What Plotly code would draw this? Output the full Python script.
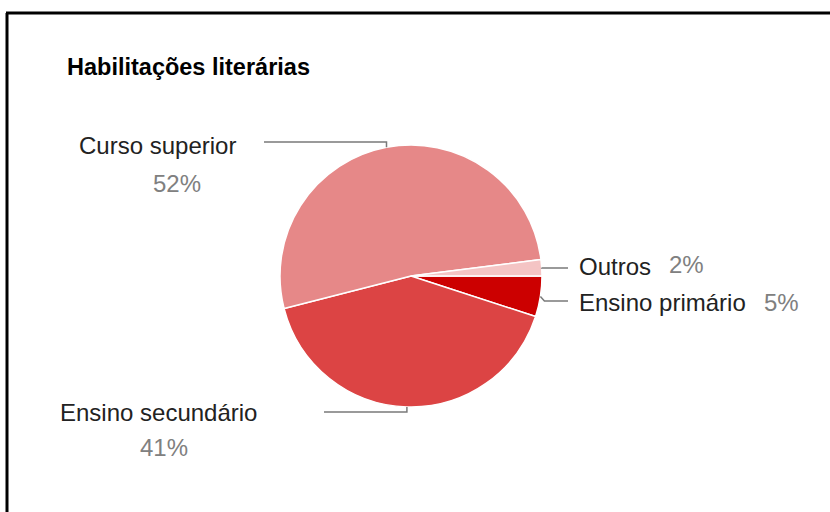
import numpy as np
import plotly.graph_objects as go

# dados
categorias = ["Ensino primário", "Ensino secundário", "Curso superior", "Outros"]
valores = [5, 41, 52, 2]
cores = ["#CC0000", "#DC4444", "#E68888", "#F4C4C4"]
titulo = "Habilitações literárias"

W, H = 830, 512
CX, CY, R = 411, 276, 131  # centro e raio da pizza em px

# posição dos rótulos (px): texto, percentagem, linha de ligação
rotulos = {
    "Curso superior": dict(lx=157, ly=145, ax="center", px=177, py=183, fim=264, ly_linha=142, dx=0),
    "Ensino secundário": dict(lx=158, ly=412, ax="center", px=164, py=447, fim=324, ly_linha=412, dx=0),
    "Outros": dict(lx=577, ly=266, ax="left", px=667, py=264, fim=568, ly_linha=268, dx=0),
    "Ensino primário": dict(lx=577, ly=302, ax="left", px=762, py=302, fim=568, ly_linha=301, dx=4),
}

fonte = "Arial, Liberation Sans, sans-serif"

fig = go.Figure()

fig.add_trace(go.Pie(
    labels=categorias,
    values=valores,
    sort=False,
    direction="clockwise",
    rotation=90,
    marker=dict(colors=cores, line=dict(color="white", width=1.5)),
    textinfo="none",
    hovertemplate="%{label}: %{value} (%{percent})<extra></extra>",
    showlegend=False,
    domain=dict(x=[(CX - R) / W, (CX + R) / W], y=[1 - (CY + R) / H, 1 - (CY - R) / H]),
))

# ângulos médios das fatias (sentido horário a partir das 3 horas)
total = sum(valores)
fim_ang = np.cumsum(valores) / total * 360
ini_ang = fim_ang - np.array(valores) / total * 360
meio = np.radians((ini_ang + fim_ang) / 2)

shapes = []
annotations = []
for cat, val, ang in zip(categorias, valores, meio):
    p = rotulos[cat]
    x0 = CX + R * np.cos(ang)
    y0 = CY + R * np.sin(ang)
    caminho = f"M {x0:.1f},{y0:.1f} L {x0 + p['dx']:.1f},{p['ly_linha']} L {p['fim']},{p['ly_linha']}"
    shapes.append(dict(type="path", path=caminho, xref="x", yref="y",
                       line=dict(color="#7a7a7a", width=1.5)))
    annotations.append(dict(x=p["lx"], y=p["ly"], xref="x", yref="y", text=cat,
                            showarrow=False, xanchor=p["ax"], yanchor="middle",
                            font=dict(family=fonte, size=24, color="#222222")))
    annotations.append(dict(x=p["px"], y=p["py"], xref="x", yref="y",
                            text=f"{round(val / total * 100)}%",
                            showarrow=False, xanchor="center" if p["ax"] == "center" else "left",
                            yanchor="middle",
                            font=dict(family=fonte, size=24, color="#808080")))

# título
annotations.append(dict(x=65, y=67, xref="x", yref="y", text=f"<b>{titulo}</b>",
                        showarrow=False, xanchor="left", yanchor="middle",
                        font=dict(family=fonte, size=23.5, color="#000000")))

# moldura
shapes.append(dict(type="line", x0=6, y0=13, x1=W, y1=13, xref="x", yref="y",
                   line=dict(color="black", width=3)))
shapes.append(dict(type="line", x0=7, y0=13, x1=7, y1=H, xref="x", yref="y",
                   line=dict(color="black", width=3)))

fig.update_layout(
    width=W, height=H,
    margin=dict(l=0, r=0, t=0, b=0),
    paper_bgcolor="white", plot_bgcolor="white",
    xaxis=dict(range=[0, W], visible=False, fixedrange=True, domain=[0, 1]),
    yaxis=dict(range=[H, 0], visible=False, fixedrange=True, domain=[0, 1]),
    shapes=shapes,
    annotations=annotations,
    font=dict(family=fonte),
)

fig.write_html("out.html", config={"displayModeBar": False},
               post_script="document.body.style.margin='0';")
